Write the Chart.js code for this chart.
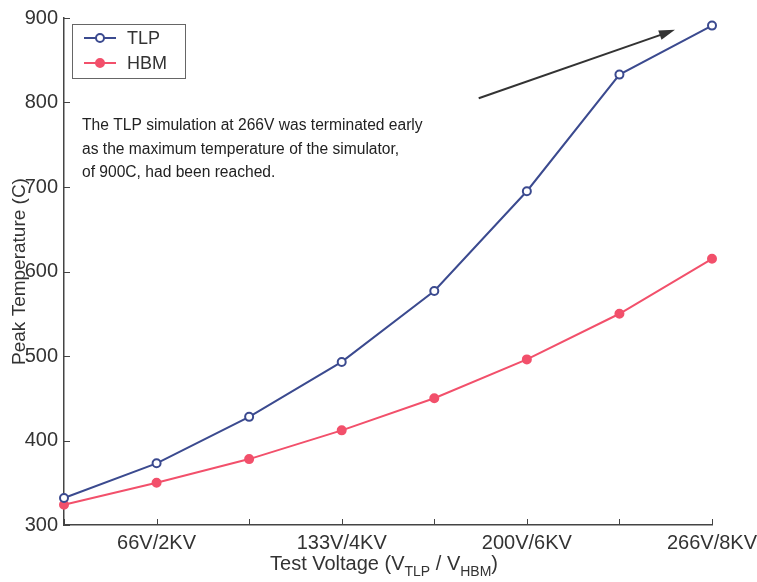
<!DOCTYPE html>
<html>
<head>
<meta charset="utf-8">
<script src="https://cdn.jsdelivr.net/npm/chart.js@4"></script>
<style>
  html, body { margin: 0; padding: 0; background: #fff; }
  #wrap { width: 757px; height: 582px; }
</style>
</head>
<body>
<div id="wrap"><canvas id="chart" width="757" height="582"></canvas></div>
<script>
// test voltages (TLP / HBM); only every other one gets a label on the axis
const voltages = ['33V/1KV', '66V/2KV', '100V/3KV', '133V/4KV', '166V/5KV', '200V/6KV', '233V/7KV', '266V/8KV'];
const tlpTemps = [332, 373, 428, 493, 577, 695, 833, 891];
const hbmTemps = [324, 350, 378, 412, 450, 496, 550, 615];
const yTicks = [300, 400, 500, 600, 700, 800, 900];

const noteLines = [
  'The TLP simulation at 266V was terminated early',
  'as the maximum temperature of the simulator,',
  'of 900C, had been reached.'
];

const FONT = '"Liberation Sans", Arial, sans-serif';
const TLP_COLOR = '#3b4a8f';
const HBM_COLOR = '#f2506b';

// inward ticks, x labels, legend box, note text, arrow and subscripted x title
const extras = {
  id: 'extras',
  afterDraw(chart) {
    const ctx = chart.ctx;
    const x = chart.scales.x, y = chart.scales.y;
    const area = chart.chartArea;
    ctx.save();

    // inward tick marks
    ctx.strokeStyle = '#444';
    ctx.lineWidth = 1;
    yTicks.forEach(v => {
      const py = Math.round(y.getPixelForValue(v)) + 0.5;
      ctx.beginPath(); ctx.moveTo(area.left, py); ctx.lineTo(area.left + 6, py); ctx.stroke();
    });
    voltages.forEach((v, i) => {
      const px = Math.round(x.getPixelForValue(i)) + 0.5;
      ctx.beginPath(); ctx.moveTo(px, area.bottom); ctx.lineTo(px, area.bottom - 6); ctx.stroke();
    });

    // x tick labels (every other category)
    ctx.fillStyle = '#333';
    ctx.font = '20px ' + FONT;
    ctx.textAlign = 'center';
    ctx.textBaseline = 'middle';
    voltages.forEach((v, i) => {
      if (i % 2 === 1) ctx.fillText(v, x.getPixelForValue(i), area.bottom + 18);
    });

    // legend
    ctx.strokeStyle = '#666';
    ctx.lineWidth = 1;
    ctx.strokeRect(72.5, 24.5, 113, 54);
    const items = [['TLP', TLP_COLOR, '#fff'], ['HBM', HBM_COLOR, HBM_COLOR]];
    items.forEach((it, i) => {
      const cy = 38 + i * 25;
      ctx.strokeStyle = it[1];
      ctx.lineWidth = 2;
      ctx.beginPath(); ctx.moveTo(84, cy); ctx.lineTo(116, cy); ctx.stroke();
      ctx.beginPath(); ctx.arc(100, cy, 4, 0, Math.PI * 2);
      ctx.fillStyle = it[2]; ctx.fill(); ctx.stroke();
      ctx.fillStyle = '#333';
      ctx.font = '18px ' + FONT;
      ctx.textAlign = 'left';
      ctx.fillText(it[0], 127, cy + 1);
    });

    // note
    ctx.font = '15.6px ' + FONT;
    ctx.fillStyle = '#222';
    noteLines.forEach((t, i) => ctx.fillText(t, 82, 126 + i * 23.5));

    // arrow toward the last TLP point
    const x0 = x.getPixelForValue(4.48), y0 = y.getPixelForValue(805);
    const x1 = x.getPixelForValue(6.6), y1 = y.getPixelForValue(886);
    ctx.strokeStyle = '#333';
    ctx.fillStyle = '#333';
    ctx.lineWidth = 2;
    ctx.beginPath(); ctx.moveTo(x0, y0); ctx.lineTo(x1 - 10, y1 + 3.5); ctx.stroke();
    const a = Math.atan2(y1 - y0, x1 - x0);
    ctx.beginPath();
    ctx.moveTo(x1, y1);
    ctx.lineTo(x1 - 16 * Math.cos(a) + 5 * Math.sin(a), y1 - 16 * Math.sin(a) - 5 * Math.cos(a));
    ctx.lineTo(x1 - 16 * Math.cos(a) - 5 * Math.sin(a), y1 - 16 * Math.sin(a) + 5 * Math.cos(a));
    ctx.closePath(); ctx.fill();

    // x title with subscripts
    const parts = [['Test Voltage (V', 20, 0], ['TLP', 14, 6], [' / V', 20, 0], ['HBM', 14, 6], [')', 20, 0]];
    let total = 0;
    parts.forEach(p => { ctx.font = p[1] + 'px ' + FONT; total += ctx.measureText(p[0]).width; });
    let cx = 384 - total / 2;
    ctx.fillStyle = '#333';
    ctx.textBaseline = 'alphabetic';
    parts.forEach(p => {
      ctx.font = p[1] + 'px ' + FONT;
      ctx.fillText(p[0], cx, 570 + p[2]);
      cx += ctx.measureText(p[0]).width;
    });
    ctx.restore();
  }
};

new Chart(document.getElementById('chart'), {
  type: 'line',
  data: {
    labels: voltages,
    datasets: [
      {
        label: 'TLP',
        data: tlpTemps,
        borderColor: TLP_COLOR,
        backgroundColor: '#fff',
        borderWidth: 2,
        pointRadius: 4,
        pointBorderWidth: 2,
        tension: 0
      },
      {
        label: 'HBM',
        data: hbmTemps,
        borderColor: HBM_COLOR,
        backgroundColor: HBM_COLOR,
        borderWidth: 2,
        pointRadius: 4,
        pointBorderWidth: 2,
        tension: 0
      }
    ]
  },
  options: {
    responsive: false,
    animation: false,
    layout: { padding: { top: 18, right: 45, bottom: 0, left: 0 } },
    plugins: { legend: { display: false }, tooltip: { enabled: false } },
    scales: {
      x: {
        offset: false,
        afterFit: s => { s.height = 57; },
        grid: { display: false, drawTicks: false },
        border: { color: '#444', width: 1.5 },
        ticks: { display: false }
      },
      y: {
        min: 300,
        max: 900,
        afterFit: s => { s.width = 64; },
        afterBuildTicks: s => { s.ticks = yTicks.map(v => ({ value: v })); },
        grid: { display: false, drawTicks: false },
        border: { color: '#444', width: 1.5 },
        ticks: { color: '#333', font: { family: FONT, size: 20 }, padding: 6 },
        title: {
          display: true,
          text: 'Peak Temperature (C)',
          color: '#333',
          font: { family: FONT, size: 19 },
          padding: { top: 8, bottom: 0 }
        }
      }
    }
  },
  plugins: [extras]
});
</script>
</body>
</html>
